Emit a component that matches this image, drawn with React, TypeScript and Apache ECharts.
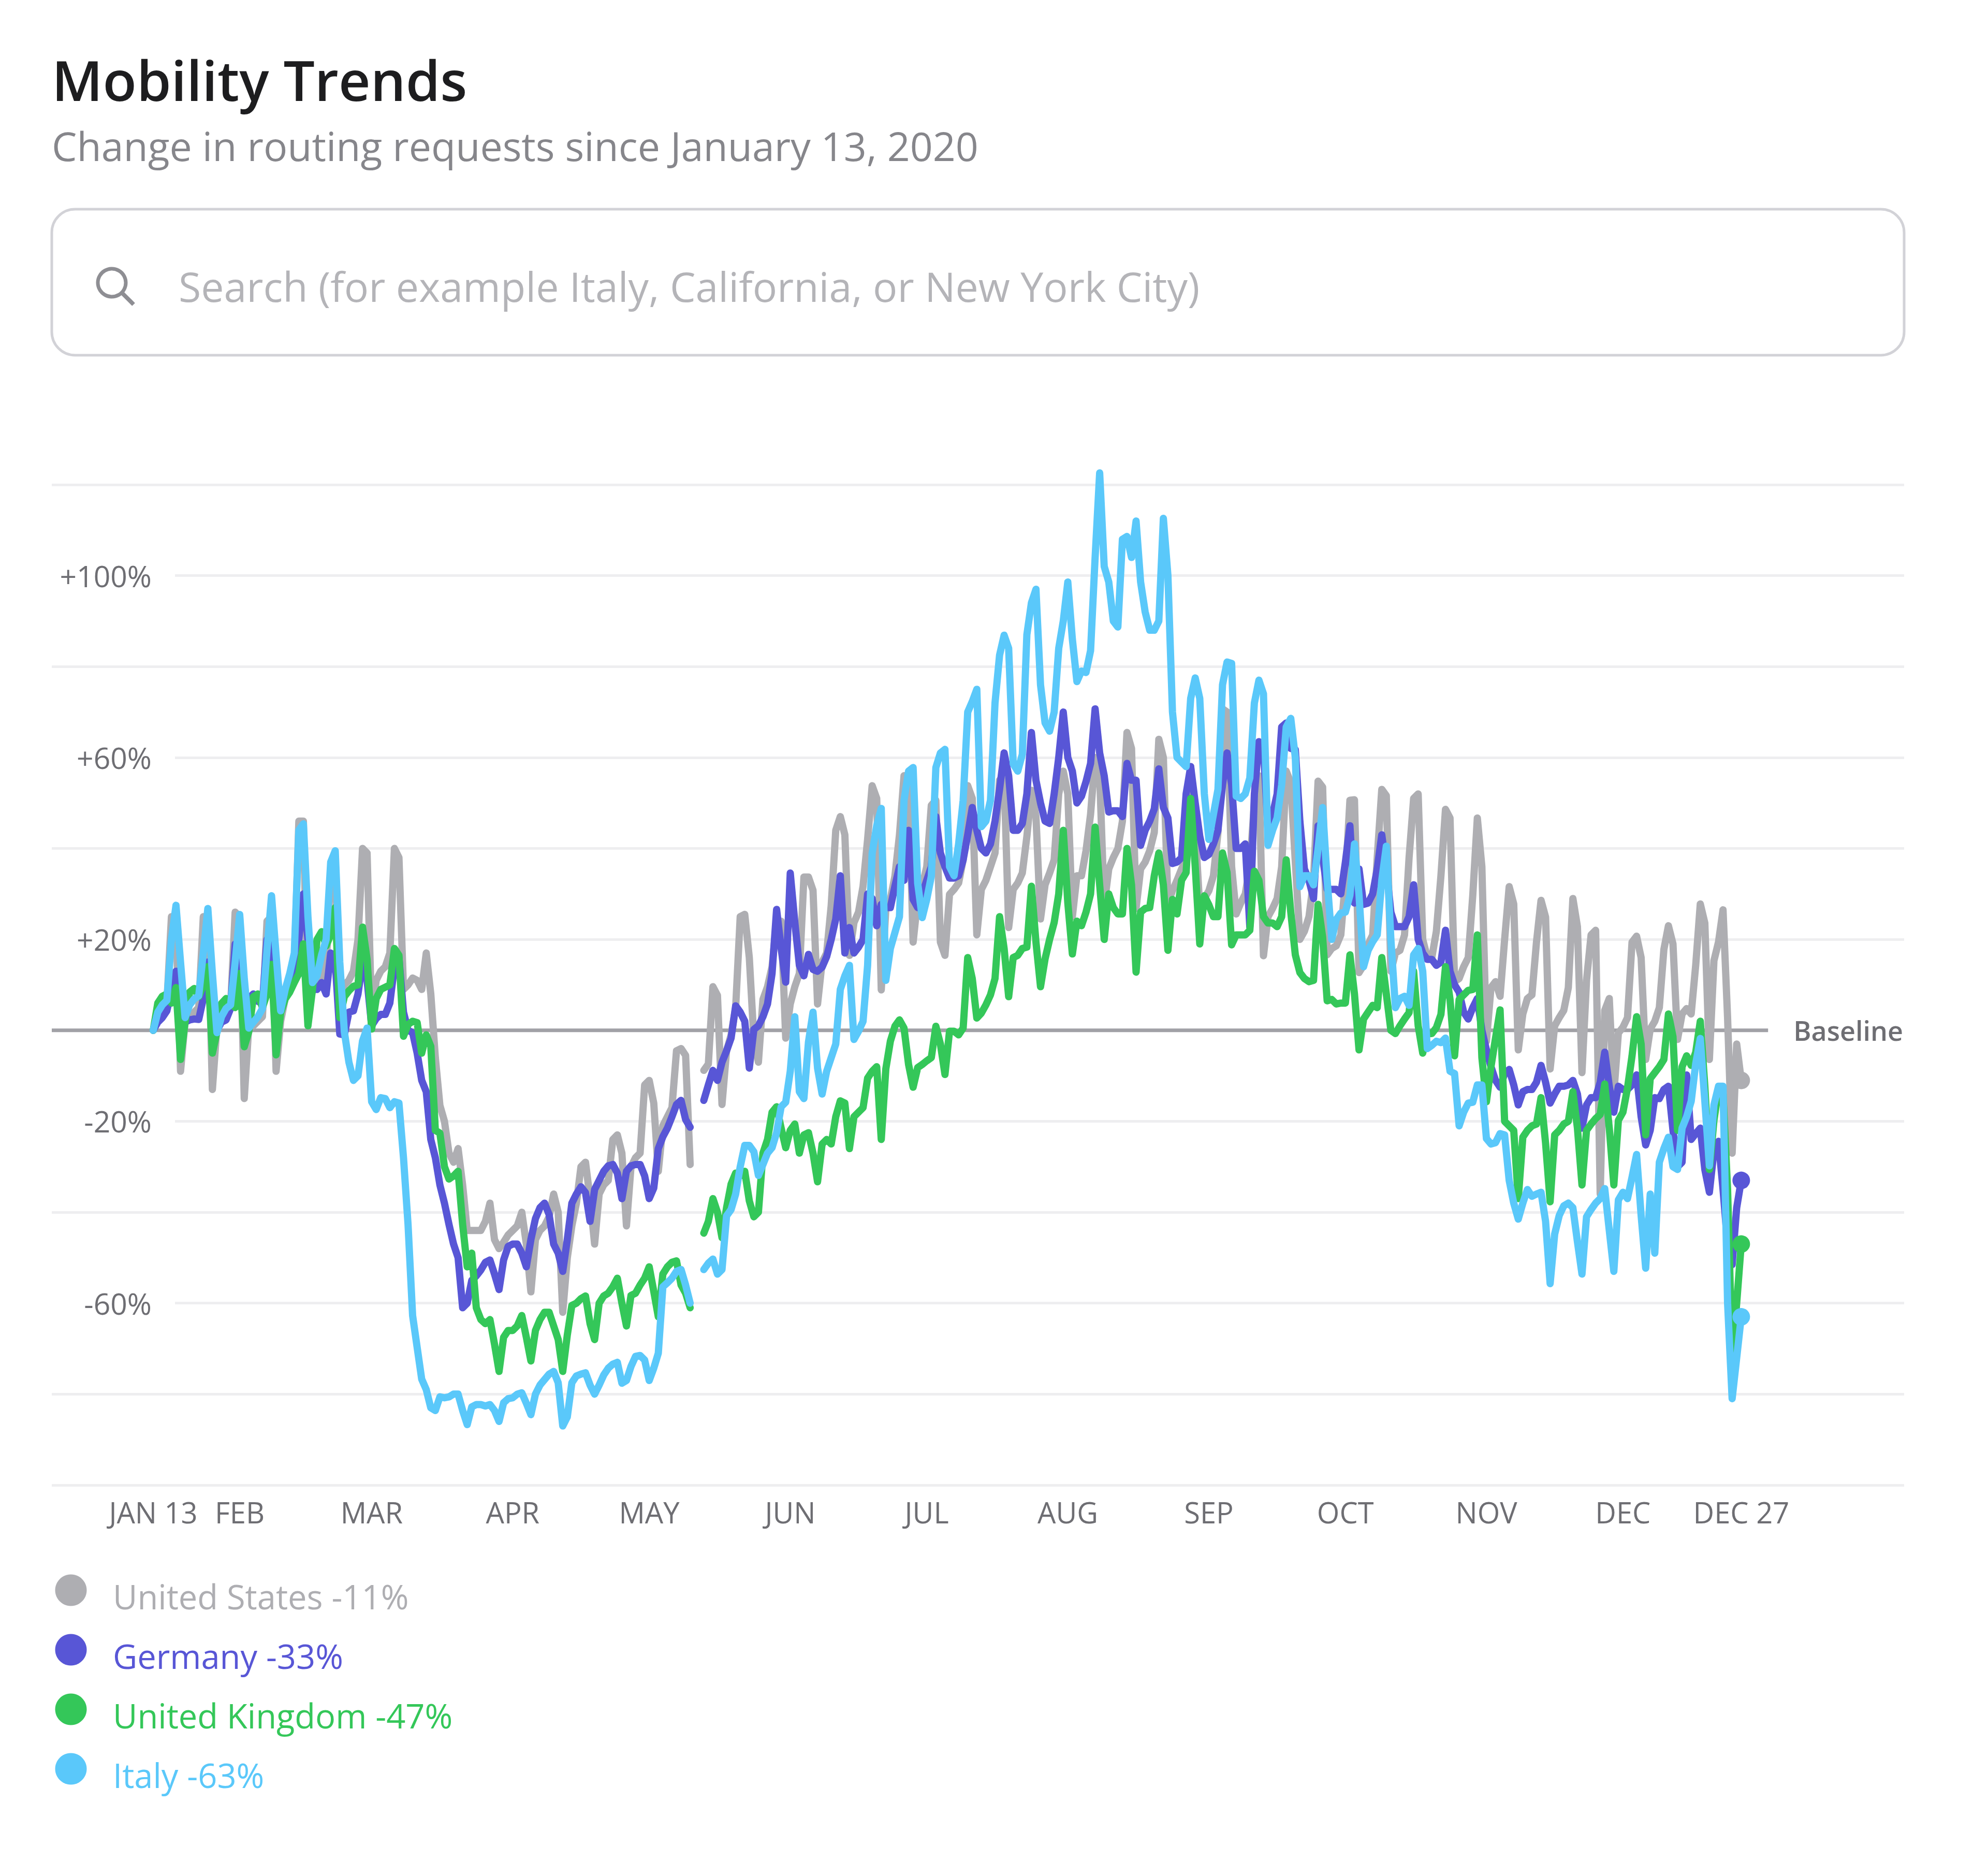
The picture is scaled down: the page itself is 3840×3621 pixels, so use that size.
import React, { useEffect, useRef } from "react";
import * as echarts from "echarts";

const unitedStates: (number | null)[] = [
  0,2,4,6,25,24,-9,
  2,3,4,5,25,25,-13,
  1,2,3,5,26,25,-15,
  1,1,2,3,24,25,-9,
  2,7,9,14,46,46,4,
  10,11,11,14,35,38,3,
  10,11,13,20,40,39,3,
  11,13,14,17,40,38,9,
  10,11.5,11,9,17,8,-6,
  -16.5,-20,-27,-29,-26,-34,-44,
  -44,-44,-44,-42,-38,-46,-48,
  -46.6,-45,-44,-43,-40,-47,-57.5,
  -46,-44,-43,-41,-36,-40,-62,
  -50,-43,-38,-30,-29,-37,-47,
  -36,-34,-33,-24,-23,-27,-43,
  -30,-28,-27,-12,-11,-16,-31,
  -21,-19,-17,-4.5,-4,-5.5,-29.5,
  null,null,-8.8,-7.4,9.6,7.7,-16.3,
  -4.5,-1,5,25,25.5,16,-2,
  -7,6.8,9.6,14,24,24,-1.7,
  5.8,9.6,12.5,33.7,33.7,30.8,5.8,
  15,17,27.5,44,47,43,16.5,
  23.7,26,31.7,42,53.8,51,8.9,
  26.6,28.8,33.9,43,56,55,19.4,
  28.8,31.7,36,49.5,50.6,19.4,16.5,
  29.9,31,32.4,37.5,53.8,51,21,
  31,33,36,39,55,56,22.6,
  31,32.4,34.6,42.6,52.8,47,24.5,
  32,34.6,37.5,52,57,52,25,
  34,34,39.5,47.5,60,56,27.5,
  35.5,38,40,46,65.5,62,26.8,
  35.5,37,39.5,43.5,64,60,28,
  30.7,33,35.5,37.5,58,44,27,
  29,30.7,34,43.5,70.7,70,36,
  25.6,28,30,36,50,56,16.4,
  25,26.8,29,36,57,54.5,37,
  20,21.8,25,33,54.8,53.5,16.6,
  18,18.6,21,33,50.6,50.7,12.7,
  14.3,18.9,21,38,53,51.6,13,
  17,17.6,21,38,51,52,20,
  16,16,21.8,34,48.6,46.7,10.7,
  11.4,14,16,29.7,46.7,36,-2.4,
  9.4,10.7,7.5,20,31.6,27.8,-4.3,
  3.6,7,7.8,19.4,28.6,24.9,-8.5,
  1,2.8,4.4,9.4,29,22.8,-9.3,
  11,21,22,-36,4.4,7,-14,
  -0.6,0.7,2.8,19.4,20.7,16,-6.4,
  0.3,2,5,17.8,23,19,-2,
  3.6,4.8,3.6,14.4,27.8,23.6,-6.4,
  15.3,19.4,26.5,2.8,-27,-3,-11,
];

const germany: (number | null)[] = [
  0,1.8,2.8,4.3,9,13,5,
  1.8,2.3,2.5,2.4,7,15,5,
  0,1.8,2.3,4.8,19,17.6,5,
  7,8,6.4,5.9,20,17.6,4.8,
  4.3,8.4,10,12,20,30,20,
  9,9,10.5,8,17,15,-0.8,
  -1,4,4.3,8,15,11,1,
  2.6,3.5,3.5,6,14,16,4,
  0,-0.5,-5,-11,-13.5,-24,-28,
  -34,-38,-42.7,-47,-50,-61,-60,
  -55,-54,-52.7,-51,-50.5,-53.6,-57,
  -50.5,-47.5,-47,-47,-49,-52,-46,
  -41.4,-39,-38,-40.5,-47,-49,-53,
  -46,-38,-36,-34.4,-35.7,-42,-35,
  -33,-31,-29.8,-29.5,-31.4,-37,-31,
  -29.8,-29.5,-29.5,-32,-37,-34.7,-26,
  -23.4,-21.5,-19,-16.3,-15.4,-19.6,-21.3,
  null,null,-15.4,-12,-8.8,-11,-7,
  -4.5,-1.7,5.4,4,2,-8.3,0.2,
  1,3,5.8,12.5,26.6,18,10.6,
  34.6,23.8,14.3,12,16.7,13.4,13,
  13.9,16.2,20,24.5,34,17,22.6,
  17,18.3,20,30,29,23,27.7,
  27,27,31.7,36,33,44,28.8,
  27,29.9,33,36,47,39,36,
  33.5,33.5,34,37.5,43,49,44,
  40,39,41,46,53,61,56,
  44,44,45.5,52,65.5,55,50,
  46,45.5,52,60,70,60,57,
  50,51.5,54.7,58.7,70.7,61,56,
  48,48.3,48.3,47,58.7,55,55,
  40.7,44,46,48.7,57.5,49,46.7,
  36.7,37,38,52,58,50,42.7,
  38,38.7,41,44,54,61,54,
  40,40,41,22.7,52,63.5,62,
  44,47.5,52,66.7,67.6,62,61.7,
  46,35.5,33,29,45,38,31,
  31,31,30,37,45,28,35.5,
  27.7,28,30,35.5,43,35.5,26,
  22.8,22.8,22.8,25,32,20,17,
  15.6,15.6,14.3,15,22,13,10,
  8.4,4,2.5,5,7,0,-4.3,
  -8,-11,-12.5,-9.5,-8.6,-12,-16.4,
  -13.5,-13,-13,-11.4,-7.7,-11.4,-16,
  -14,-12.3,-12.3,-12,-11,-14,-21.5,
  -16.4,-14.8,-14.8,-11.4,-4.8,-12.3,-18,
  -12.3,-13,-13,-12,-9.8,-19,-25.2,
  -22,-14.8,-15,-13,-12.3,-22,-30,
  -29,-9.8,-24,-22.7,-21.5,-30.6,-35.6,
  -26.5,-24.4,-35,-47,-51.5,-39,-33,
];

const unitedKingdom: (number | null)[] = [
  0,6,7.5,8,6,9.4,-6.4,
  1.8,8.4,9.2,7.4,10,14,-5,
  -0.3,5.9,7,6,5,12.5,-3.6,
  -0.3,7.4,8,5,8,14.5,-5.4,
  3.8,6.9,8.4,10.5,12.5,19,1,
  9,20,21.7,18.6,21,27,2.8,
  7.4,8.7,9.7,10,22.7,15.6,0.3,
  7,9,9.5,10,18,16.5,-1.3,
  1.3,2,1.7,-5,-1,-3.5,-22,
  -22.6,-30,-32.7,-32,-31,-42.7,-52,
  -49,-61,-63.6,-64.5,-63.6,-69,-75,
  -67.5,-66,-66,-65,-62.7,-67.5,-72.7,
  -66,-63.6,-62,-62,-65,-68,-75,
  -67,-60.5,-60,-59,-58.4,-64.5,-68,
  -60,-58.4,-57.8,-56.4,-54.5,-60,-65,
  -58.3,-57.8,-56,-54.5,-52,-57.4,-63,
  -53.6,-52,-51,-50.7,-56,-57.8,-61,
  null,null,-44.6,-42,-37,-40,-45.6,
  -39,-33.8,-31.4,-32,-31,-37.5,-41,
  -40,-27,-24,-18,-16.8,-21.5,-25.8,
  -22,-20.6,-27,-23,-22.5,-27,-33.3,
  -25,-24,-25,-19,-15.5,-16,-26,
  -19,-18,-17,-10.5,-9,-8,-24,
  -8.5,-2.4,0.9,2.3,0.5,-7.5,-12.5,
  -8.2,-7.5,-6.7,-6,0.9,-3,-9.7,
  -0.2,-0.2,-1,0.5,16,11.4,2.7,
  3.8,5.6,7.8,11.4,25,18,7.4,
  16,16.5,18,18.3,31.7,19.4,9.6,
  15.7,20,23.7,30,44,28,16.8,
  24,23,26,30,44.7,32,20,
  30,27,25.6,25.6,40,32,12.8,
  26,26.8,27,34,39,32,17.6,
  28.8,25.6,33,34.7,51,36,19,
  29.6,27.6,25,25,39,34.7,18.8,
  21,21,21,22,35,33,25,
  23.6,23.6,22.8,25,37.5,26,16.6,
  12.7,11.4,10.7,11,27.7,20.5,6.5,
  6.8,5.8,6,6,16.6,8,-4.3,
  2.5,4,5.5,5,16,8,0,
  -0.7,1,2.5,3.9,13,1,-5,
  -0.7,-0.7,0.6,3.5,14,6.8,-5.6,
  6.8,7.8,8.8,9,21,-6,-15.7,
  -8,-1.7,4.5,-20,-21,-22,-37,
  -23.5,-22,-21,-20.6,-14.8,-24.8,-37.7,
  -23,-22,-20.6,-20,-13.5,-21.5,-34,
  -22,-20.6,-19.4,-18.5,-11.8,-21.5,-34,
  -19.8,-18,-12.7,-5.6,3,-3,-23,
  -10.6,-9.3,-8,-6.4,3.6,-1.4,-22,
  -8,-5.6,-7.7,-4.8,2,-12.3,-30.6,
  -19.8,-13,-14,-35,-72,-60,-47,
];

const italy: (number | null)[] = [
  0,4,5.6,6.6,20,27.5,15,
  2.8,5.6,6.9,7.6,17,26.8,12.5,
  -0.5,3,4.8,5.6,15,25.5,11.5,
  0.5,1.8,3,4.8,17.6,29.6,16.6,
  4.3,9,12.5,17,44,45.4,25,
  10.5,12,16.6,20,37,39.5,15,
  -0.3,-7,-11,-10,-2.3,0.5,-15.7,
  -17.4,-14.8,-15,-17,-15.7,-16,-28,
  -42.7,-62.7,-69.7,-76.7,-79,-83,-83.6,
  -80.6,-80.8,-80.6,-80,-80,-83.6,-86.7,
  -82.8,-82.3,-82.3,-82.6,-82.3,-83.6,-86,
  -81.9,-81,-80.8,-80,-79.7,-82,-84.5,
  -80,-78,-76.8,-75.6,-75,-77.5,-87,
  -85,-77.5,-76,-75.6,-75.3,-78,-80,
  -78,-75.8,-74.3,-73.4,-73,-77.6,-77,
  -73.9,-71.7,-71.5,-72.5,-77,-74.3,-71,
  -56.4,-55.5,-54.5,-53,-52.6,-56,-60,
  null,null,-52.6,-51.2,-50.3,-53.6,-52.6,
  -40.8,-39.4,-36,-30,-25.3,-25.3,-26.7,
  -31.9,-29.5,-27,-25.8,-22.5,-16.8,-15.8,
  -9,3,-13.5,-15,-2.6,4,-8.3,
  -14,-9,-6,-3,9,12,14.3,
  -2,-0.2,2,14.3,39,45,48.8,
  11,18,21.5,25,50.6,57,57.8,
  32.4,24.8,28.8,33.9,57.8,61,61.8,
  36,34,41,50.6,70,72.3,75,
  44.8,46,50.6,72,82.5,86.9,84,
  58.6,57,60.7,87,94,97,76,
  67.6,65.8,70,84,90,98.6,86,
  76.7,79,78.7,83.5,104,122.6,102,
  98.6,90,88.7,108,108.6,104,112,
  98.6,92,88,88,90,112.6,100,
  70,60,59,58,73,77.5,73,
  52,42,47.5,53,76,81,80.7,
  51.5,51,52,55.5,72,77,74,
  40.7,44,46.7,54,66.7,68.6,60,
  31.6,34,34,32,40,49,33,
  20,24.4,25.8,26,29.7,41,29.7,
  14,17.6,19.5,21,33,40.5,20,
  5,7,7.5,5.5,16.6,18,13,
  -4,-3.3,-2.4,-2.7,-1.7,-9,-9.5,
  -21,-18,-16,-15.8,-12,-12,-23.8,
  -25,-24.7,-22.7,-23,-33,-38,-41.5,
  -38,-35,-36.5,-36,-35.6,-42,-55.7,
  -44.8,-40.7,-38.6,-38,-39,-46.5,-53.6,
  -41,-39.4,-38,-37,-34.8,-44,-53,
  -37.3,-35.6,-37,-32.3,-27.3,-40.7,-52.3,
  -36,-49,-29,-26,-23.5,-30,-30.6,
  -21.5,-19,-15.6,-7.3,-1.8,-15.6,-29.8,
  -16.4,-12.3,-12.3,-60,-81,-72,-63,
];

const monthDays = [0, 19, 48, 79, 109, 140, 170, 201, 232, 262, 293, 323, 349];
const monthLabels = ["JAN 13", "FEB", "MAR", "APR", "MAY", "JUN", "JUL", "AUG", "SEP", "OCT", "NOV", "DEC", "DEC 27"];
const labelledTicks = [-60, -20, 20, 60, 100];
const plainTicks = [-100, -80, -40, 40, 80, 120];

const names = ["United States -11%", "Germany -33%", "United Kingdom -47%", "Italy -63%"];
const colors = ["#aeaeb2", "#5856d6", "#34c759", "#5ac8fa"];
const seriesValues = [unitedStates, germany, unitedKingdom, italy];

const FONT = "'Open Sans', 'Noto Sans', sans-serif";
const LAST_DAY = 349;

echarts.graphic.registerShape(
  "roundBox",
  echarts.graphic.extendPath("M45 0H3533A45 45 0 0 1 3578 45V237A45 45 0 0 1 3533 282H45A45 45 0 0 1 0 237V45A45 45 0 0 1 45 0Z", {}) as any
);

export default function App() {
  const ref = useRef<HTMLDivElement>(null);
  useEffect(() => {
    document.body.style.margin = "0";
    const chart = echarts.init(ref.current!, undefined, { renderer: "svg" });
    const lineSeries = names.map((name, k) => ({
      name,
      type: "line",
      xAxisIndex: 0,
      yAxisIndex: 0,
      z: 3 + k,
      clip: false,
      showSymbol: true,
      showAllSymbol: true,
      symbol: (value: any) => (value[0] === LAST_DAY ? "circle" : "none"),
      symbolSize: 34,
      itemStyle: { color: colors[k] },
      lineStyle: { color: colors[k], width: 14, cap: "round", join: "round" },
      emphasis: { disabled: true },
      data: seriesValues[k].map((v, i) => [i, v]),
    }));
    const legendItems = names.flatMap((name, k) => [
      { type: "circle", shape: { cx: 137, cy: 3071 + 115 * k, r: 30.5 }, style: { fill: colors[k] } },
      {
        type: "text",
        x: 218,
        y: 3083 + 115 * k,
        style: { text: name, fontFamily: FONT, fontSize: 65, fill: colors[k], verticalAlign: "middle" },
      },
    ]);
    chart.setOption({
      animation: false,
      backgroundColor: "#ffffff",
      title: [
        {
          text: "Mobility Trends",
          left: 100,
          top: 100,
          padding: 0,
          textStyle: { fontFamily: FONT, fontSize: 107, fontWeight: 600, color: "#1d1d1f" },
        },
        {
          text: "Change in routing requests since January 13, 2020",
          left: 100,
          top: 243,
          padding: 0,
          textStyle: { fontFamily: FONT, fontSize: 77, fontWeight: 400, color: "#86868b" },
        },
      ],
      graphic: [
        {
          type: "roundBox",
          x: 100,
          y: 404,
          style: { fill: "#ffffff", stroke: "#d2d2d7", lineWidth: 5 },
        },
        { type: "circle", shape: { cx: 216, cy: 546, r: 27 }, style: { fill: "none", stroke: "#8e8e93", lineWidth: 7 } },
        { type: "line", shape: { x1: 236, y1: 566, x2: 258, y2: 588 }, style: { stroke: "#8e8e93", lineWidth: 8 } },
        {
          type: "text",
          x: 345,
          y: 552,
          style: {
            text: "Search (for example Italy, California, or New York City)",
            fontFamily: FONT,
            fontSize: 78.8,
            fill: "#b4b4b8",
            verticalAlign: "middle",
          },
        },
        ...legendItems,
      ],
      grid: [
        { left: 100, right: 162, top: 936, bottom: 753 },
        { left: 338, right: 162, top: 936, bottom: 753 },
      ],
      xAxis: [
        {
          type: "value",
          gridIndex: 0,
          min: -22.3,
          max: 384.8,
          axisLine: { show: false, onZero: false },
          axisTick: { show: false, customValues: monthDays },
          splitLine: { show: false },
          axisLabel: {
            customValues: monthDays,
            margin: 24,
            fontFamily: FONT,
            fontSize: 56,
            color: "#6e6e73",
            formatter: (v: number) => monthLabels[monthDays.indexOf(v)] ?? "",
          },
        },
        {
          type: "value",
          gridIndex: 1,
          show: false,
          min: 0,
          max: 100,
        },
      ],
      yAxis: [
        {
          type: "value",
          gridIndex: 0,
          min: -100,
          max: 120,
          axisLine: { show: false },
          axisTick: { show: false, customValues: plainTicks },
          axisLabel: { show: false },
          splitLine: { show: true, lineStyle: { color: "#eeeef0", width: 5 } },
        },
        {
          type: "value",
          gridIndex: 1,
          min: -100,
          max: 120,
          axisLine: { show: false },
          axisTick: { show: false, customValues: labelledTicks },
          splitLine: { show: true, lineStyle: { color: "#eeeef0", width: 5 } },
          axisLabel: {
            customValues: labelledTicks,
            margin: 45,
            fontFamily: FONT,
            fontSize: 57,
            color: "#6e6e73",
            formatter: (v: number) => (v > 0 ? "+" : "") + v + "%",
          },
        },
      ],
      series: [
        {
          name: "Baseline",
          type: "line",
          xAxisIndex: 0,
          yAxisIndex: 0,
          z: 2,
          clip: false,
          symbol: "none",
          lineStyle: { color: "#a1a1a6", width: 7 },
          emphasis: { disabled: true },
          endLabel: {
            show: true,
            distance: 49,
            formatter: "Baseline",
            fontFamily: FONT,
            fontSize: 52,
            fontWeight: 600,
            color: "#6e6e73",
          },
          data: [
            [-22.3, 0],
            [354.9, 0],
          ],
        },
        ...lineSeries,
      ],
    });
    return () => chart.dispose();
  }, []);
  return <div ref={ref} style={{ position: "absolute", left: 0, top: 0, width: 3840, height: 3621 }} />;
}
